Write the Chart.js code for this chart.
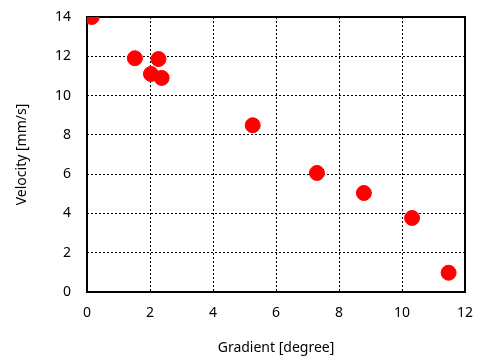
<!DOCTYPE html>
<html>
<head>
<meta charset="utf-8">
<script src="https://cdn.jsdelivr.net/npm/chart.js@4/dist/chart.umd.min.js"></script>
<style>
  html, body { margin: 0; padding: 0; background: #fff; }
  #wrap { width: 482px; height: 356px; }
</style>
</head>
<body>
<div id="wrap"><canvas id="chart"></canvas></div>
<script>
// gradient [degree] vs velocity [mm/s]
const gradient = [0.15, 1.52, 2.27, 2.03, 2.37, 5.26, 7.3, 8.79, 10.32, 11.48];
const velocity = [14.0, 11.9, 11.86, 11.1, 10.9, 8.49, 6.06, 5.04, 3.77, 0.98];
const xTitle = 'Gradient [degree]';
const yTitle = 'Velocity [mm/s]';

const points = gradient.map((g, i) => ({ x: g, y: velocity[i] }));
const font = { family: 'Noto Sans', size: 14 };

// solid frame round the plot area
const frame = {
  id: 'frame',
  beforeDatasetsDraw(chart) {
    const a = chart.chartArea, ctx = chart.ctx;
    ctx.save();
    ctx.strokeStyle = '#000';
    ctx.lineWidth = 2;
    ctx.strokeRect(a.left, a.top, a.right - a.left, a.bottom - a.top);
    ctx.restore();
  }
};

new Chart(document.getElementById('chart'), {
  type: 'scatter',
  data: { datasets: [{ data: points, backgroundColor: '#ff0000', borderColor: '#ff0000', pointRadius: 7.5, pointHoverRadius: 7.5 }] },
  options: {
    responsive: true, maintainAspectRatio: false, animation: false,
    layout: { padding: { top: 17, right: 17, left: 0, bottom: 0 } },
    plugins: { legend: { display: false }, tooltip: { enabled: false } },
    scales: {
      x: {
        min: 0, max: 12,
        ticks: { stepSize: 2, color: '#000', font: font, padding: 13, maxRotation: 0 },
        grid: { color: '#000', lineWidth: 1, drawTicks: false },
        border: { display: false, dash: [2, 2] },
        title: { display: true, text: xTitle, color: '#000', font: font, padding: { top: 14, bottom: 0 } },
        afterFit(s) { s.height = 64; s.paddingLeft = 0; s.paddingRight = 0; }
      },
      y: {
        min: 0, max: 14,
        ticks: { stepSize: 2, color: '#000', font: font, padding: 16 },
        grid: { color: '#000', lineWidth: 1, drawTicks: false },
        border: { display: false, dash: [2, 2] },
        title: { display: true, text: yTitle, color: '#000', font: font, padding: { top: 14, bottom: 0 } },
        afterFit(s) { s.width = 87; s.paddingTop = 0; s.paddingBottom = 0; }
      }
    }
  },
  plugins: [frame]
});
</script>
</body>
</html>
